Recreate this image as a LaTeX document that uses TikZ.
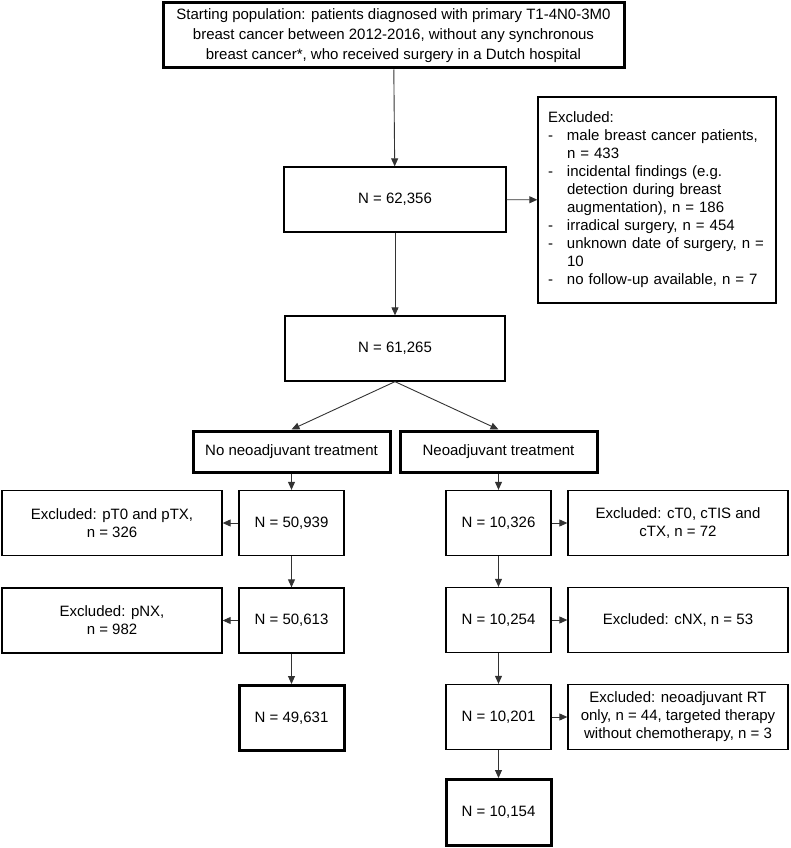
\documentclass[tikz,border=0pt]{standalone}
\usepackage{fontspec}
\setmainfont{Liberation Sans}
\usetikzlibrary{arrows.meta}
\newcommand{\dashitem}[1]{\makebox[19pt][l]{-}#1}
\newcommand{\hangitem}[1]{\hspace*{19pt}#1}
\begin{document}
\begin{tikzpicture}
[x=1pt,y=-1pt,
  boxdecorate/.style={shape=rectangle,draw,line width=1.3pt,align=center,inner sep=0pt,
    font=\fontsize{15}{18}\selectfont},
  thickdecorate/.style={boxdecorate,line width=3pt},
  countdecorate/.style={boxdecorate,minimum width=105pt,minimum height=65pt},
  sidedecorate/.style={boxdecorate,minimum width=220pt,minimum height=65pt},
  linedecorate/.style={-{Triangle[length=8pt,width=7pt]},line width=0.9pt,black!80}]
\useasboundingbox (0,0) rectangle (790,848);
%% nodes or vertices
\node (start) at (393.5,35.5) [thickdecorate,minimum width=461pt,minimum height=65pt,
  font=\fontsize{15}{20}\selectfont]
  {Starting population: patients diagnosed with primary T1-4N0-3M0\\
   breast cancer between 2012-2016, without any synchronous\\
   breast cancer*, who received surgery in a Dutch hospital};
\node (n1) at (395,199.5) [boxdecorate,minimum width=222pt,minimum height=65pt] {N = 62,356};
\node (excl) at (657,200) [boxdecorate,text width=226pt,inner xsep=6pt,minimum height=206pt,align=left]
  {\hspace*{4pt}Excluded:\\
   \hspace*{4pt}\dashitem{male breast cancer patients,}\\
   \hspace*{4pt}\hangitem{n = 433}\\
   \hspace*{4pt}\dashitem{incidental findings (e.g.}\\
   \hspace*{4pt}\hangitem{detection during breast}\\
   \hspace*{4pt}\hangitem{augmentation), n = 186}\\
   \hspace*{4pt}\dashitem{irradical surgery, n = 454}\\
   \hspace*{4pt}\dashitem{unknown date of surgery, n =}\\
   \hspace*{4pt}\hangitem{10}\\
   \hspace*{4pt}\dashitem{no follow-up available, n = 7}};
\node (n2) at (395,348.5) [boxdecorate,minimum width=220pt,minimum height=65pt] {N = 61,265};
\node (noneo) at (291.5,451.5) [thickdecorate,minimum width=197pt,minimum height=41pt] {No neoadjuvant treatment};
\node (neo) at (498.5,451.5) [thickdecorate,minimum width=197pt,minimum height=41pt] {Neoadjuvant treatment};
% no neoadjuvant branch
\node (l1) at (291.5,523) [countdecorate] {N = 50,939};
\node (lx1) at (112,523) [sidedecorate] {Excluded: pT0 and pTX,\\ n = 326};
\node (l2) at (291.5,620.5) [countdecorate] {N = 50,613};
\node (lx2) at (112,620.5) [sidedecorate] {Excluded: pNX,\\ n = 982};
\node (l3) at (291.5,718) [countdecorate,thickdecorate] {N = 49,631};
% neoadjuvant branch
\node (r1) at (498.5,523) [countdecorate] {N = 10,326};
\node (rx1) at (678,523) [sidedecorate] {Excluded: cT0, cTIS and\\ cTX, n = 72};
\node (r2) at (498.5,620) [countdecorate] {N = 10,254};
\node (rx2) at (678,620) [sidedecorate] {Excluded: cNX, n = 53};
\node (r3) at (498.5,717) [countdecorate] {N = 10,201};
\node (rx3) at (678,717) [sidedecorate] {Excluded: neoadjuvant RT\\ only, n = 44, targeted therapy\\ without chemotherapy, n = 3};
\node (r4) at (498.5,812.5) [countdecorate,thickdecorate,minimum height=66pt] {N = 10,154};
%% edges or lines
\path
\foreach \startnode/\endnode in {start/n1, n1/excl, n1/n2, n2.south/noneo.north,
  n2.south/neo.north, noneo/l1, l1/lx1, l1/l2, l2/lx2, l2/l3,
  neo/r1, r1/rx1, r1/r2, r2/rx2, r2/r3, r3/rx3, r3/r4} {
  (\startnode) edge[linedecorate] (\endnode)
};
\end{tikzpicture}
\end{document}
